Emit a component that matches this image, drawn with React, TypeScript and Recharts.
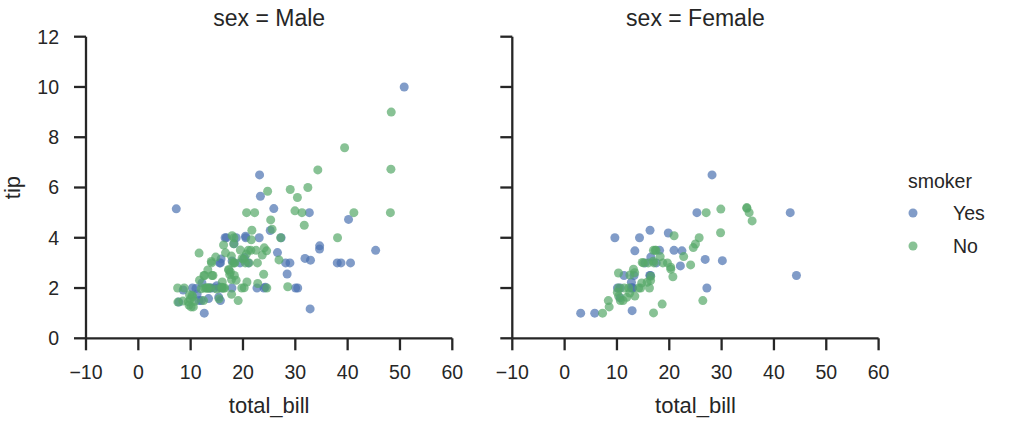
import React from 'react';
import { ScatterChart, Scatter, XAxis, YAxis, Legend } from 'recharts';

// ---------- data (total_bill, tip) ----------
const xTicks = [-10, 0, 10, 20, 30, 40, 50, 60];
const yTicks = [0, 2, 4, 6, 8, 10, 12];
const facetTitles = ['sex = Male', 'sex = Female'];
const smokerLevels = ['Yes', 'No'];
const smokerColors = ['#4C72B0', '#55A868'];

const maleYes: [number, number][] = [
  [38.01, 3.0], [11.24, 1.76], [20.29, 3.21], [13.81, 2.0], [11.02, 1.98], [18.29, 3.76],
  [15.01, 2.09], [17.92, 3.08], [19.44, 3.0], [32.68, 5.0], [28.97, 3.0], [40.17, 4.73],
  [27.28, 4.0], [12.03, 1.5], [21.01, 3.0], [15.36, 1.64], [20.49, 4.06], [25.21, 4.29],
  [16.0, 2.0], [50.81, 10.0], [15.81, 3.16], [7.25, 5.15], [31.85, 3.18], [16.82, 4.0],
  [32.9, 3.11], [17.89, 2.0], [14.48, 2.0], [34.63, 3.55], [34.65, 3.68], [23.33, 5.65],
  [45.35, 3.5], [23.17, 6.5], [40.55, 3.0], [30.46, 2.0], [23.1, 4.0], [15.69, 1.5],
  [28.44, 2.56], [15.48, 2.02], [16.58, 4.0], [10.34, 2.0], [13.51, 2.0], [18.71, 4.0],
  [20.53, 4.0], [26.59, 3.41], [38.73, 3.0], [24.27, 2.03], [30.06, 2.0], [25.89, 5.16],
  [28.15, 3.0], [11.59, 1.5], [7.74, 1.44], [12.16, 2.2], [8.58, 1.92], [13.42, 1.58],
  [24.01, 2.0], [15.69, 3.0], [15.53, 3.0], [12.6, 1.0], [32.83, 1.17], [22.67, 2.0],
];

const maleNo: [number, number][] = [
  [10.34, 1.66], [21.01, 3.5], [23.68, 3.31], [25.29, 4.71], [8.77, 2.0], [26.88, 3.12],
  [15.04, 1.96], [14.78, 3.23], [10.27, 1.71], [15.42, 1.57], [18.43, 3.0], [21.58, 3.92],
  [16.29, 3.71], [20.65, 3.35], [17.92, 4.08], [39.42, 7.58], [19.82, 3.18], [17.81, 2.34],
  [13.37, 2.0], [12.69, 2.0], [21.7, 4.3], [9.55, 1.45], [18.35, 2.5], [17.78, 3.27],
  [24.06, 3.6], [16.31, 2.0], [18.69, 2.31], [31.27, 5.0], [16.04, 2.24], [17.46, 2.54],
  [13.94, 3.06], [9.68, 1.32], [30.4, 5.6], [18.29, 3.0], [22.23, 5.0], [32.4, 6.0],
  [28.55, 2.05], [18.04, 3.0], [12.54, 2.5], [9.94, 1.56], [25.56, 4.34], [19.49, 3.51],
  [48.27, 6.73], [17.59, 2.64], [20.08, 3.15], [20.23, 2.01], [12.02, 1.97], [10.51, 1.25],
  [27.2, 4.0], [22.76, 3.0], [17.29, 2.71], [16.66, 3.4], [15.98, 2.03], [13.03, 2.0],
  [18.28, 4.0], [24.71, 5.85], [21.16, 3.0], [22.49, 3.5], [12.46, 1.5], [18.24, 3.76],
  [14.0, 3.0], [38.07, 4.0], [23.95, 2.55], [29.93, 5.07], [11.69, 2.31], [14.26, 2.5],
  [15.95, 2.0], [8.52, 1.48], [22.82, 2.18], [19.08, 1.5], [34.3, 6.7], [41.19, 5.0],
  [9.78, 1.73], [7.51, 2.0], [14.07, 2.5], [13.13, 2.0], [17.26, 2.74], [24.55, 2.0],
  [19.77, 2.0], [48.17, 5.0], [16.49, 2.0], [21.5, 3.5], [12.66, 2.5], [13.81, 2.0],
  [24.52, 3.48], [20.76, 2.24], [31.71, 4.5], [7.56, 1.44], [20.69, 5.0], [48.33, 9.0],
  [20.45, 3.0], [13.28, 2.72], [11.61, 3.39], [10.77, 1.47], [10.07, 1.25], [29.03, 5.92],
  [17.82, 1.75],
];

const femaleYes: [number, number][] = [
  [3.07, 1.0], [26.86, 3.14], [25.28, 5.0], [5.75, 1.0], [16.32, 4.3], [11.35, 2.5],
  [15.38, 3.0], [44.3, 2.5], [22.42, 3.48], [14.31, 4.0], [17.51, 3.0], [10.59, 1.61],
  [10.63, 2.0], [9.6, 4.0], [20.9, 3.5], [18.15, 3.5], [19.81, 4.19], [43.11, 5.0],
  [13.0, 2.0], [12.74, 2.01], [13.0, 2.0], [16.4, 2.5], [16.47, 3.23], [12.76, 2.23],
  [13.27, 2.5], [28.17, 6.5], [12.9, 1.1], [30.14, 3.09], [13.42, 3.48], [16.27, 2.5],
  [10.09, 2.0], [22.12, 2.88], [27.18, 2.0],
];

const femaleNo: [number, number][] = [
  [16.99, 1.01], [24.59, 3.61], [35.26, 5.0], [14.83, 3.02], [10.33, 1.67], [16.97, 3.5],
  [20.29, 2.75], [15.77, 2.23], [19.65, 3.0], [15.06, 3.0], [20.69, 2.45], [16.93, 3.07],
  [10.29, 2.6], [34.81, 5.2], [26.41, 1.5], [16.45, 2.47], [17.07, 3.0], [14.73, 2.2],
  [10.07, 1.83], [34.83, 5.17], [22.75, 3.25], [20.92, 4.08], [7.25, 1.0], [25.71, 4.0],
  [17.31, 3.5], [10.65, 1.5], [12.43, 1.8], [24.08, 2.92], [13.42, 1.68], [12.48, 2.52],
  [29.8, 4.2], [14.52, 2.0], [11.38, 2.0], [20.27, 2.83], [11.17, 1.5], [12.26, 2.0],
  [18.26, 3.25], [8.51, 1.25], [10.33, 2.0], [14.15, 2.0], [13.16, 2.75], [17.47, 3.5],
  [27.05, 5.0], [16.43, 2.3], [8.35, 1.5], [18.64, 1.36], [11.87, 1.63], [29.85, 5.14],
  [25.0, 3.75], [13.39, 2.61], [16.21, 2.0], [15.98, 3.0], [35.83, 4.67], [18.78, 3.0],
];

// ---------- styling ----------
const INK = '#262626';
const FONT = '"Liberation Sans", Arial, Helvetica, sans-serif';
const TICK_FS = 19.5;
const LABEL_FS = 22;
const TITLE_FS = 23;
const LEGEND_FS = 19.5;
const LW = 2.3;

const W = 1011;
const H = 426;
const PLOT_TOP = 36.7;
const PLOT_BOTTOM = 338.3;
const PLOT_W = 366.3;
const LEFT1 = 86;
const LEFT2 = 512.3;
const CHART1_W = 470;
const CHART2_W = W - CHART1_W;

const toPts = (arr: [number, number][]) => arr.map(([total_bill, tip]) => ({ total_bill, tip }));

const makeDot = (color: string) => (props: any) => {
  if (props.cx == null || props.cy == null) return <g />;
  return <circle cx={props.cx} cy={props.cy} r={4.5} fill={color} fillOpacity={0.7} stroke="none" />;
};

const fmtTick = (v: number) => (v < 0 ? `\u2212${Math.abs(v)}` : `${v}`);

const NoTickLabel = () => <g />;

const YLabel = (props: any) => {
  const vb = props.viewBox || {};
  const cy = vb.height ? vb.y + vb.height / 2 : (PLOT_TOP + PLOT_BOTTOM) / 2;
  const cx = 12;
  return (
    <text
      x={cx}
      y={cy}
      transform={`rotate(-90, ${cx}, ${cy})`}
      textAnchor="middle"
      dominantBaseline="central"
      fill={INK}
      fontSize={LABEL_FS}
      fontFamily={FONT}
    >
      tip
    </text>
  );
};

const LegendBox = () => (
  <svg width={120} height={110} style={{ overflow: 'visible', display: 'block' }}>
    <text x={8} y={28} fill={INK} fontSize={LEGEND_FS} fontFamily={FONT}>
      smoker
    </text>
    {smokerLevels.map((lvl, i) => (
      <g key={lvl}>
        <circle cx={13} cy={53 + i * 33} r={4.5} fill={smokerColors[i]} fillOpacity={0.7} />
        <text x={53} y={60 + i * 33} fill={INK} fontSize={LEGEND_FS} fontFamily={FONT}>
          {lvl}
        </text>
      </g>
    ))}
  </svg>
);

interface PanelProps {
  yes: [number, number][];
  no: [number, number][];
  width: number;
  yAxisWidth: number;
  showYLabels: boolean;
  withLegend: boolean;
}

const Panel = ({ yes, no, width, yAxisWidth, showYLabels, withLegend }: PanelProps) => {
  const rightMargin = width - yAxisWidth - PLOT_W;
  return (
    <ScatterChart
      width={width}
      height={H}
      margin={{ top: PLOT_TOP, right: rightMargin, bottom: 0, left: 0 }}
    >
      <XAxis
        type="number"
        dataKey="total_bill"
        domain={[-10, 60]}
        ticks={xTicks}
        interval={0}
        allowDataOverflow
        height={H - PLOT_BOTTOM}
        tickSize={12}
        tickMargin={15}
        tickFormatter={fmtTick}
        axisLine={{ stroke: INK, strokeWidth: LW }}
        tickLine={{ stroke: INK, strokeWidth: LW }}
        tick={{ fill: INK, fontSize: TICK_FS, fontFamily: FONT }}
        label={{
          value: 'total_bill',
          position: 'insideBottom',
          offset: 13,
          fill: INK,
          fontSize: LABEL_FS,
          fontFamily: FONT,
        }}
      />
      <YAxis
        type="number"
        dataKey="tip"
        domain={[0, 12]}
        ticks={yTicks}
        interval={0}
        allowDataOverflow
        width={yAxisWidth}
        tickSize={12}
        tickMargin={15}
        axisLine={{ stroke: INK, strokeWidth: LW }}
        tickLine={{ stroke: INK, strokeWidth: LW }}
        tick={showYLabels ? { fill: INK, fontSize: TICK_FS, fontFamily: FONT } : NoTickLabel}
        label={showYLabels ? { content: YLabel } : undefined}
      />
      <Scatter
        name={smokerLevels[0]}
        data={toPts(yes)}
        fill={smokerColors[0]}
        shape={makeDot(smokerColors[0])}
        isAnimationActive={false}
      />
      <Scatter
        name={smokerLevels[1]}
        data={toPts(no)}
        fill={smokerColors[1]}
        shape={makeDot(smokerColors[1])}
        isAnimationActive={false}
      />
      {withLegend && (
        <Legend
          layout="vertical"
          align="center"
          verticalAlign="middle"
          content={() => <LegendBox />}
          wrapperStyle={{ left: 900 - CHART1_W, top: 160, width: 120, height: 110 }}
        />
      )}
    </ScatterChart>
  );
};

export default function App() {
  const center1 = LEFT1 + PLOT_W / 2;
  const center2 = LEFT2 + PLOT_W / 2;
  return (
    <div
      style={{
        position: 'absolute',
        left: 0,
        top: 0,
        width: W,
        height: H,
        background: '#ffffff',
        fontFamily: FONT,
      }}
    >
      <div style={{ position: 'absolute', left: 0, top: 0 }}>
        <Panel yes={maleYes} no={maleNo} width={CHART1_W} yAxisWidth={LEFT1} showYLabels withLegend={false} />
      </div>
      <div style={{ position: 'absolute', left: CHART1_W, top: 0 }}>
        <Panel
          yes={femaleYes}
          no={femaleNo}
          width={CHART2_W}
          yAxisWidth={LEFT2 - CHART1_W}
          showYLabels={false}
          withLegend
        />
      </div>
      <svg
        width={W}
        height={40}
        style={{ position: 'absolute', left: 0, top: 0, pointerEvents: 'none' }}
      >
        <text x={center1} y={26} textAnchor="middle" fill={INK} fontSize={TITLE_FS} fontFamily={FONT}>
          {facetTitles[0]}
        </text>
        <text x={center2} y={26} textAnchor="middle" fill={INK} fontSize={TITLE_FS} fontFamily={FONT}>
          {facetTitles[1]}
        </text>
      </svg>
    </div>
  );
}
